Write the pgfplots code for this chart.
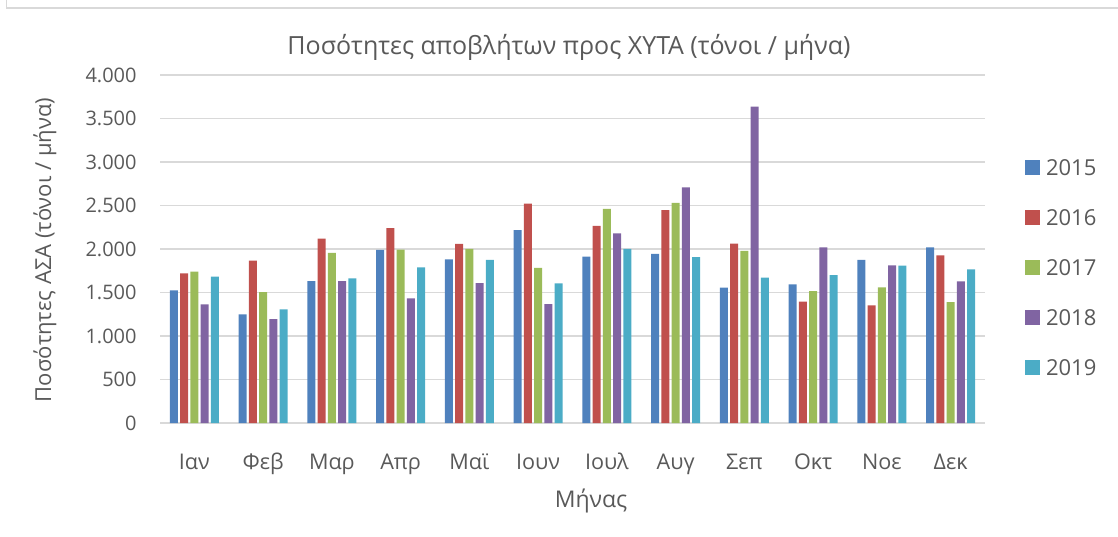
\documentclass[border=0pt]{standalone}
\usepackage{fontspec}
\setmainfont{Open Sans}
\usepackage{pgfplots}
\usepackage{pgfplotstable}
\pgfplotsset{compat=1.18}
\definecolor{c15}{HTML}{4F81BD}
\definecolor{c16}{HTML}{C0504D}
\definecolor{c17}{HTML}{9BBB59}
\definecolor{c18}{HTML}{8064A2}
\definecolor{c19}{HTML}{4BACC6}
\definecolor{gridgray}{HTML}{D9D9D9}
\definecolor{txtgray}{HTML}{595959}
\pgfplotstableread{
x y15 y16 y17 y18 y19
0 1525 1720 1740 1363 1682
1 1248 1866 1505 1194 1306
2 1632 2120 1955 1632 1663
3 1989 2239 1993 1432 1789
4 1882 2058 2001 1609 1874
5 2216 2523 1782 1367 1605
6 1912 2266 2461 2181 2001
7 1943 2446 2531 2707 1908
8 1555 2062 1978 3636 1670
9 1594 1394 1517 2020 1701
10 1874 1352 1559 1812 1809
11 2020 1928 1390 1628 1766
}\data
\begin{document}
\begin{tikzpicture}[x=0.5pt,y=0.5pt]
\path[use as bounding box] (0,0) rectangle (1118,536);
\draw[gridgray, line width=0.75pt] (6.5,536) -- (6.5,528) -- (1118,528);
\begin{axis}[
  at={(80pt,56.5pt)}, anchor=south west,
  scale only axis, width=412.5pt, height=174pt,
  ybar=1.15pt, bar width=4pt,
  xmin=-0.5, xmax=11.5, ymin=0, ymax=4000,
  xtick=data,
  xticklabels={Ιαν,Φεβ,Μαρ,Απρ,Μαϊ,Ιουν,Ιουλ,Αυγ,Σεπ,Οκτ,Νοε,Δεκ},
  ytick={0,500,...,4000},
  scaled y ticks=false,
  /pgf/number format/.cd, 1000 sep={.}, assume math mode=true, /pgfplots/.cd,
  ymajorgrids, grid style={gridgray, line width=0.75pt},
  axis line style={draw=none},
  major tick length=0pt,
  tick style={draw=none},
  tick label style={font=\fontsize{10pt}{12pt}\selectfont, text=txtgray},
  yticklabel style={anchor=east, inner sep=0pt, xshift=-11.5pt},
  xticklabel style={anchor=base, inner sep=0pt, yshift=-23pt, font=\fontsize{10.8pt}{12pt}\selectfont},
  legend image code/.code={\fill[#1] (0pt,-3.75pt) rectangle (7.5pt,3.75pt);},
  legend style={at={(rel axis cs:1.0485,0.4468)}, anchor=west, draw=none,
    fill=none, inner sep=0pt, outer sep=0pt, row sep=17pt,
    font=\fontsize{11pt}{13pt}\selectfont, text=txtgray,
    nodes={inner sep=0pt, text height=8pt, text depth=0pt},
    /tikz/every even column/.append style={column sep=0pt}},
  legend cell align=left,
]
\addplot[fill=c15, draw=none] table[x=x,y=y15]{\data};
\addplot[fill=c16, draw=none] table[x=x,y=y16]{\data};
\addplot[fill=c17, draw=none] table[x=x,y=y17]{\data};
\addplot[fill=c18, draw=none] table[x=x,y=y18]{\data};
\addplot[fill=c19, draw=none] table[x=x,y=y19]{\data};
\legend{\hspace{3pt}2015,\hspace{3pt}2016,\hspace{3pt}2017,\hspace{3pt}2018,\hspace{3pt}2019}
\end{axis}
\node[anchor=base, text=txtgray, font=\fontsize{12.5pt}{14pt}\selectfont] at (569,481) {Ποσότητες αποβλήτων προς ΧΥΤΑ (τόνοι / μήνα)};
\node[anchor=base, text=txtgray, font=\fontsize{11.5pt}{13pt}\selectfont] at (591,29) {Μήνας};
\node[rotate=90, text=txtgray, font=\fontsize{11pt}{13pt}\selectfont, inner sep=0pt] at (45,286) {Ποσότητες ΑΣΑ (τόνοι / μήνα)};
\end{tikzpicture}
\end{document}
